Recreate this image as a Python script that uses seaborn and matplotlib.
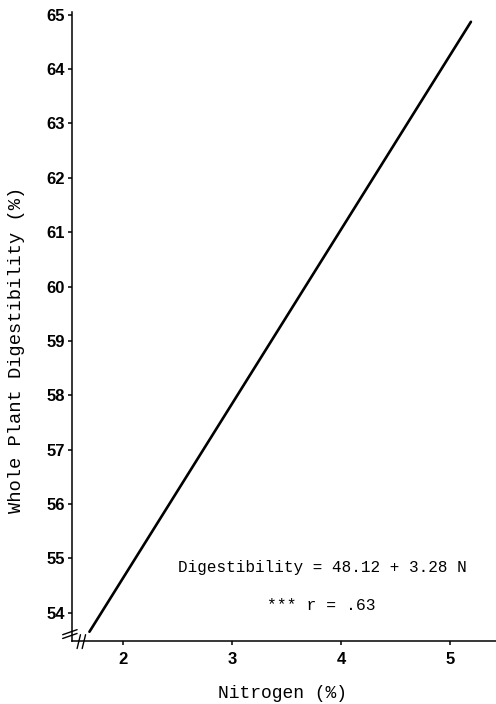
import matplotlib
matplotlib.use("Agg")
import matplotlib.pyplot as plt
import seaborn as sns
import pandas as pd

# Data
nitrogen = [1.69, 5.19]
digestibility = [53.65, 64.87]
x_ticks = [2, 3, 4, 5]
y_ticks = [54, 55, 56, 57, 58, 59, 60, 61, 62, 63, 64, 65]
equation_text = "Digestibility = 48.12 + 3.28 N"
r_text = "*** r = .63"
x_label = "Nitrogen (%)"
y_label = "Whole Plant Digestibility (%)"

sns.set_theme(style="ticks")
plt.rcParams['font.family'] = ['Liberation Sans', 'DejaVu Sans']

df = pd.DataFrame({"N": nitrogen, "D": digestibility})

fig = plt.figure(figsize=(4.96, 7.04), dpi=100)
ax = fig.add_axes([72/496, 1 - 641/704, 1 - 72/496, (641 - 12)/704])

sns.lineplot(data=df, x="N", y="D", ax=ax, color="black", linewidth=1.9)

ax.set_xlim(1.53, 5.42)
ax.set_ylim(53.48, 65.05)
ax.set_xticks(x_ticks)
ax.set_yticks(y_ticks)
ax.set_xticklabels([str(t) for t in x_ticks])
ax.set_yticklabels([str(t) for t in y_ticks])

for s in ["top", "right"]:
    ax.spines[s].set_visible(False)
for s in ["left", "bottom"]:
    ax.spines[s].set_linewidth(1.1)
    ax.spines[s].set_color("black")

ax.tick_params(axis="both", direction="out", length=3, width=1.1, color="black",
               labelsize=12, labelcolor="black")
ax.tick_params(axis="x", pad=5)
ax.tick_params(axis="y", pad=2)
for lab in ax.get_xticklabels() + ax.get_yticklabels():
    lab.set_fontweight("bold")

mono = ['Liberation Mono', 'DejaVu Sans Mono']
ax.set_xlabel("")
ax.set_ylabel("")
fig.text(282/496, 1 - 693/704, x_label, family=mono, fontsize=13,
         ha="center", va="center", color="black")
fig.text(17/496, 1 - 350/704, y_label, family=mono, fontsize=13.5,
         ha="center", va="center", rotation=90, color="black")

ax.text(0.591, 0.1176, equation_text, transform=ax.transAxes, family=mono,
        fontsize=11.5, ha="center", va="center", color="black")
ax.text(0.587, 0.0572, r_text, transform=ax.transAxes, family=mono,
        fontsize=11.8, ha="center", va="center", color="black")

# axis break marks
kw = dict(transform=ax.transAxes, color="black", linewidth=1.0, clip_on=False)
for dy in (0.0, 0.006):
    ax.plot([-0.022, 0.012], [0.004 + dy, 0.012 + dy], **kw)
for dx in (0.0, 0.012):
    ax.plot([0.012 + dx, 0.02 + dx], [-0.012, 0.010], **kw)

ax.grid(False)
fig.savefig("out.png", dpi=100, facecolor="white")
